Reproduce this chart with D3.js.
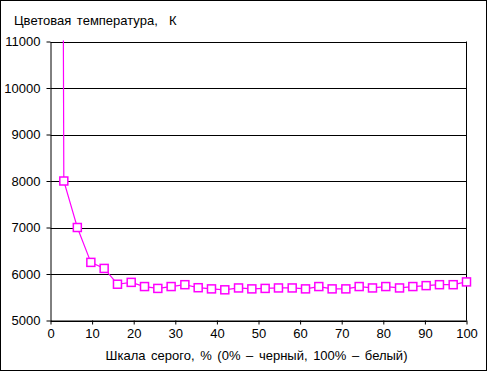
<!DOCTYPE html>
<html>
<head>
<meta charset="utf-8">
<script src="https://cdn.jsdelivr.net/npm/d3@7"></script>
<style>
html,body{margin:0;padding:0;background:#fff;}
svg{display:block;}
text{font-family:"Liberation Sans",Arial,sans-serif;fill:#000;}
</style>
</head>
<body>
<svg id="chart" width="487" height="371"></svg>
<script>
const title = "Цветовая температура,  К";
const xLabel = "Шкала серого, % (0% – черный, 100% – белый)";
const grayPercent = [0, 3.2, 6.45, 9.7, 12.9, 16.1, 19.4, 22.6, 25.8, 29.0, 32.3, 35.5, 38.7, 41.9, 45.2, 48.4, 51.6, 54.8, 58.1, 61.3, 64.5, 67.7, 71.0, 74.2, 77.4, 80.6, 83.9, 87.1, 90.3, 93.5, 96.8, 100];
const colorTemp = [100000, 8000, 7000, 6250, 6120, 5780, 5820, 5730, 5690, 5730, 5770, 5705, 5680, 5660, 5700, 5680, 5690, 5700, 5700, 5680, 5730, 5680, 5680, 5730, 5700, 5730, 5700, 5730, 5750, 5770, 5770, 5830];
const xTicks = [0, 10, 20, 30, 40, 50, 60, 70, 80, 90, 100];
const yTicks = [5000, 6000, 7000, 8000, 9000, 10000, 11000];

const svg = d3.select("#chart");
const L = 50.5, R = 466.5, T = 41.5, B = 320.5;
const x = d3.scaleLinear().domain([0, 100]).range([L, R]);
const y = d3.scaleLinear().domain([5000, 11000]).range([B, T]);

// outer border
svg.append("rect").attr("x", 0.5).attr("y", 0.5).attr("width", 486).attr("height", 370)
  .attr("fill", "#fff").attr("stroke", "#000").attr("stroke-width", 1);

// gridlines
svg.append("g").selectAll("line").data(yTicks).join("line")
  .attr("x1", L).attr("x2", R).attr("y1", d => Math.round(y(d)) + 0.5).attr("y2", d => Math.round(y(d)) + 0.5)
  .attr("stroke", "#000").attr("stroke-width", 1);
// right border of plot
svg.append("line").attr("x1", R).attr("x2", R).attr("y1", T).attr("y2", B).attr("stroke", "#000");

// axes
const fontSize = 13;
const xAxis = svg.append("g").attr("transform", `translate(0,${B})`)
  .call(d3.axisBottom(x).tickValues(xTicks).tickSize(4).tickSizeOuter(0).tickPadding(4));
const yAxis = svg.append("g").attr("transform", `translate(${L},0)`)
  .call(d3.axisLeft(y).tickValues(yTicks).tickSize(4).tickSizeOuter(0).tickPadding(6).tickFormat(d3.format("d")));
[xAxis, yAxis].forEach(a => {
  a.selectAll("path.domain").attr("stroke", "#000");
  a.selectAll(".tick line").attr("stroke", "#000");
  a.selectAll("text").attr("font-size", fontSize).attr("font-family", "Liberation Sans, Arial, sans-serif").attr("fill", "#000");
});

// clip
svg.append("clipPath").attr("id", "clip").append("rect")
  .attr("x", L).attr("y", T - 1).attr("width", R - L).attr("height", B - T + 1);

const pts = grayPercent.map((g, i) => [g, colorTemp[i]]);
const line = d3.line().x(d => x(d[0])).y(d => y(d[1]));
svg.append("path").datum(pts).attr("d", line).attr("fill", "none")
  .attr("stroke", "#ff00ff").attr("stroke-width", 1.2).attr("clip-path", "url(#clip)");

svg.append("g").selectAll("rect").data(pts.filter(d => d[1] <= 11000)).join("rect")
  .attr("x", d => x(d[0]) - 4).attr("y", d => y(d[1]) - 4).attr("width", 8).attr("height", 8)
  .attr("fill", "#fff").attr("stroke", "#ff00ff").attr("stroke-width", 1.5);

// titles
svg.append("text").attr("x", 14).attr("y", 25).attr("font-size", fontSize)
  .attr("word-spacing", "2px").attr("xml:space", "preserve").text(title);
svg.append("text").attr("x", (L + R) / 2 - 2).attr("y", 360).attr("text-anchor", "middle")
  .attr("font-size", fontSize).attr("word-spacing", "2px").text(xLabel);
</script>
</body>
</html>
